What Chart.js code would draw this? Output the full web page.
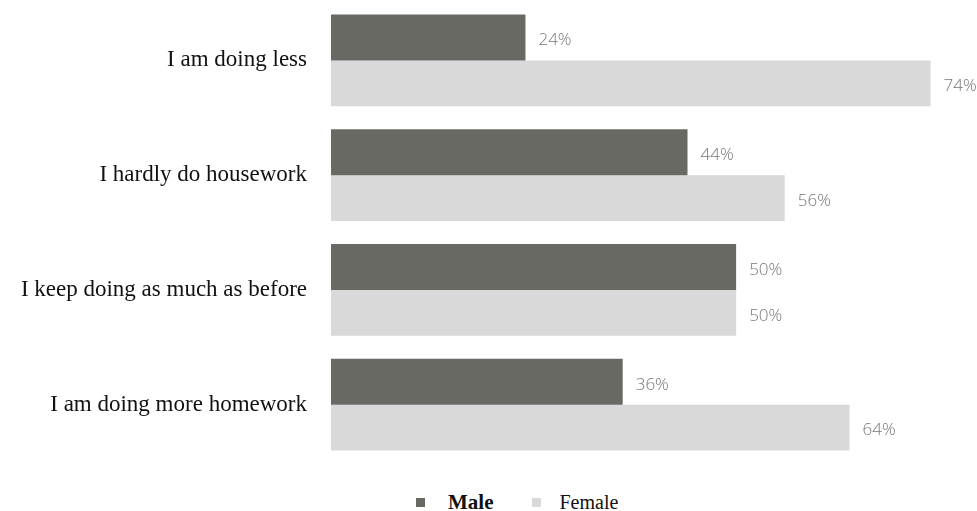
<!DOCTYPE html>
<html>
<head>
<meta charset="utf-8">
<script src="https://cdn.jsdelivr.net/npm/chart.js@4/dist/chart.umd.min.js"></script>
<style>
  body { margin: 0; background: #fff; overflow: hidden; }
  #chart { display: block; }
  #legend { position: absolute; left: 416px; top: 487px; height: 30px;
            display: flex; align-items: center;
            font-family: "Liberation Serif", serif; font-size: 21px; color: #111; }
  #legend .item { display: flex; align-items: center; }
  #legend .box { width: 9px; height: 9px; margin-right: 23px; }
</style>
</head>
<body>
<canvas id="chart" width="977" height="475"></canvas>
<div id="legend"></div>
<script>
// Data
const categories = ['I am doing less', 'I hardly do housework', 'I keep doing as much as before', 'I am doing more homework'];
const maleValues = [24, 44, 50, 36];
const femaleValues = [74, 56, 50, 64];

const maleColor = '#686963';
const femaleColor = '#d9d9d9';

// Draw the percentage next to each bar
const valueLabels = {
    id: 'valueLabels',
    afterDatasetsDraw(chart) {
        const ctx = chart.ctx;
        ctx.save();
        ctx.font = '300 17px "Open Sans", "Liberation Sans", sans-serif';
        ctx.fillStyle = '#777';
        ctx.textAlign = 'left';
        ctx.textBaseline = 'middle';
        chart.data.datasets.forEach((ds, i) => {
            chart.getDatasetMeta(i).data.forEach((bar, j) => {
                ctx.fillText(ds.data[j] + '%', bar.x + 13, bar.y + 3);
            });
        });
        ctx.restore();
    }
};

const ctx = document.getElementById('chart').getContext('2d');
const chart = new Chart(ctx, {
    type: 'bar',
    data: {
        labels: categories,
        datasets: [
            { label: 'Male', data: maleValues, backgroundColor: maleColor },
            { label: 'Female', data: femaleValues, backgroundColor: femaleColor }
        ]
    },
    options: {
        indexAxis: 'y',
        responsive: false,
        animation: false,
        layout: { padding: { top: 3, bottom: 13, right: 14 } },
        datasets: { bar: { categoryPercentage: 0.8, barPercentage: 1.0 } },
        plugins: {
            legend: { display: false },
            tooltip: { enabled: false }
        },
        scales: {
            x: { display: false, min: 0, max: 78 },
            y: {
                grid: { display: false },
                border: { display: false },
                ticks: {
                    color: '#111',
                    padding: 16,
                    font: { family: '"Liberation Serif", serif', size: 23 }
                },
                afterFit(scale) {
                    scale.width = 331;
                    // don't let the label padding shrink the plot vertically
                    scale.paddingTop = 0;
                    scale.paddingBottom = 0;
                }
            }
        }
    },
    plugins: [valueLabels]
});

// Legend below the chart, built from the datasets
const legend = document.getElementById('legend');
chart.data.datasets.forEach((ds, i) => {
    const item = document.createElement('div');
    item.className = 'item';
    const box = document.createElement('span');
    box.className = 'box';
    box.style.background = ds.backgroundColor;
    const txt = document.createElement('span');
    txt.textContent = ds.label;
    if (i === 0) {
        txt.style.fontWeight = 'bold';
    } else {
        item.style.marginLeft = '39px';
        box.style.marginRight = '18px';
        txt.style.fontSize = '20px';
    }
    item.appendChild(box);
    item.appendChild(txt);
    legend.appendChild(item);
});
</script>
</body>
</html>
